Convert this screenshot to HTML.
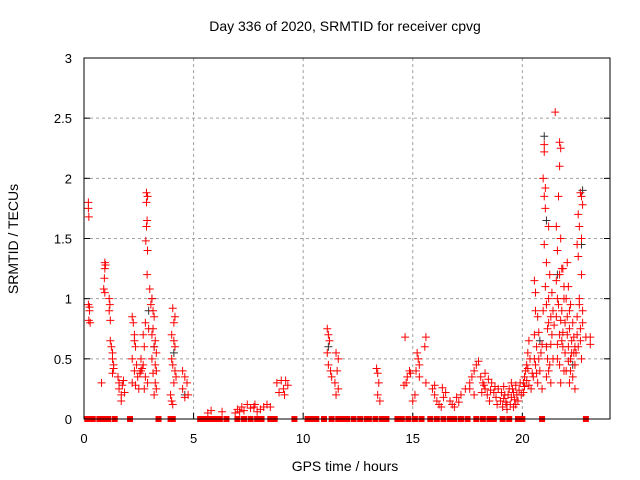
<!DOCTYPE html>
<html><head><meta charset="utf-8"><style>
body{margin:0;background:#fff;}
svg{display:block;font-family:"Liberation Sans",sans-serif;}
</style></head><body>
<svg id="chart" width="640" height="480">
<text x="345" y="31" font-size="14" text-anchor="middle">Day 336 of 2020, SRMTID for receiver cpvg</text>
<text x="345" y="471" font-size="14" text-anchor="middle">GPS time / hours</text>
<text transform="translate(18,239) rotate(-90)" font-size="14" text-anchor="middle">SRMTID / TECUs</text>
<g id="grid"></g><g id="ticks"></g><g id="marks"></g>
<rect x="84" y="58" width="526" height="361" fill="none" stroke="#000" stroke-width="1"/>
</svg>
<script>
const xTicks=[0,5,10,15,20];
const yTicks=[0,0.5,1,1.5,2,2.5,3];
const yTickLabels=["0","0.5","1","1.5","2","2.5","3"];
const redPoints=[[0.2,1.8],[0.2,1.75],[0.22,1.68],[0.2,0.95],[0.25,0.93],[0.25,0.9],[0.22,0.82],[0.28,0.8],[0.8,0.3],
[0.95,1.3],[0.98,1.28],[0.95,1.25],[0.93,1.17],[0.9,1.08],[0.95,1.05],[1.15,1.0],[1.18,0.95],[1.15,0.9],[1.2,0.82],[1.2,0.65],[1.25,0.6],[1.3,0.55],[1.3,0.5],[1.35,0.45],[1.35,0.42],[1.3,0.38],
[1.55,0.35],[1.6,0.3],[1.6,0.25],[1.7,0.2],[1.7,0.15],[1.75,0.28],[1.8,0.32],[1.85,0.22],
[2.2,0.85],[2.25,0.8],[2.3,0.7],[2.3,0.65],[2.35,0.6],[2.2,0.5],[2.4,0.45],[2.3,0.4],[2.45,0.35],[2.2,0.3],[2.5,0.25],[2.35,0.28],
[2.85,1.88],[2.9,1.85],[2.85,1.8],[2.88,1.65],[2.85,1.6],[2.82,1.48],[2.9,1.4],[2.88,1.2],[3.0,1.08],[3.05,0.95],[2.8,0.8],[2.95,0.75],[2.7,0.7],[2.75,0.6],[2.6,0.5],[2.7,0.45],[2.6,0.4],[2.8,0.35],[2.9,0.3],[2.75,0.25],[2.65,0.42],[2.55,0.38],
[3.1,1.0],[3.15,0.9],[3.2,0.85],[3.15,0.75],[3.1,0.7],[3.25,0.65],[3.2,0.6],[3.3,0.55],[3.1,0.5],[3.25,0.45],[3.3,0.4],[3.15,0.38],[3.25,0.3],[3.3,0.25],[3.2,0.2],
[4.05,0.92],[4.15,0.85],[4.1,0.8],[4.0,0.7],[4.1,0.65],[4.15,0.6],[4.0,0.5],[4.05,0.45],[4.15,0.4],[4.2,0.35],[4.1,0.3],[3.95,0.2],[4.0,0.15],[4.05,0.12],
[4.5,0.4],[4.6,0.35],[4.7,0.3],[4.5,0.25],[4.75,0.2],[4.6,0.18],
[5.65,0.05],[5.8,0.07],[6.3,0.06],
[6.9,0.05],[7.0,0.08],[7.2,0.1],[7.3,0.07],[7.45,0.12],[7.6,0.09],[7.75,0.1],[7.9,0.06],[8.05,0.08],[8.2,0.1],[8.35,0.12],[8.5,0.1],[7.1,0.06],[7.8,0.12],
[8.8,0.3],[8.9,0.22],[9.0,0.32],[9.1,0.25],[9.2,0.32],[9.15,0.2],[9.3,0.28],
[11.1,0.75],[11.15,0.7],[11.2,0.65],[11.1,0.55],[11.15,0.45],[11.25,0.4],[11.3,0.35],
[11.5,0.55],[11.6,0.5],[11.55,0.4],[11.45,0.3],[11.6,0.25],[11.5,0.2],
[13.35,0.42],[13.4,0.38],[13.45,0.3],[13.4,0.2],[13.5,0.15],
[14.65,0.68],[14.7,0.3],[14.75,0.35],[14.85,0.4],[14.9,0.38],[14.6,0.28],
[15.2,0.55],[15.25,0.5],[15.3,0.45],[15.15,0.4],[15.3,0.35],[15.1,0.2],[15.0,0.15],[15.6,0.68],[15.55,0.6],[15.6,0.3],
[15.9,0.25],[16.0,0.2],[16.1,0.15],[16.2,0.12],[16.3,0.1],[16.4,0.18],[16.5,0.22],[16.35,0.26],[16.0,0.28],
[16.7,0.15],[16.8,0.12],[16.9,0.1],[17.0,0.18],[17.2,0.2],[17.4,0.25],[17.1,0.14],
[17.6,0.3],[17.7,0.35],[17.8,0.4],[17.9,0.45],[18.0,0.48],[17.6,0.25],[17.8,0.2],
[18.1,0.35],[18.2,0.3],[18.3,0.25],[18.4,0.2],[18.5,0.15],[18.6,0.3],[18.7,0.22],[18.8,0.18],[18.3,0.38],[18.9,0.25],
[18.15,0.22],[18.25,0.28],[18.45,0.33],[18.55,0.24],[18.75,0.27],[18.85,0.12],
[19.0,0.15],[19.1,0.1],[19.2,0.2],[19.3,0.12],[19.4,0.25],[19.5,0.18],[19.6,0.22],[19.7,0.28],[19.8,0.15],[19.9,0.3],[19.3,0.08],[19.6,0.1],[19.95,0.2],
[19.05,0.22],[19.15,0.17],[19.25,0.14],[19.35,0.2],[19.45,0.12],[19.55,0.25],[19.65,0.16],[19.75,0.2],[19.85,0.24],[19.15,0.27],[19.5,0.3],[19.7,0.12],
[20.05,0.3],[20.1,0.35],[20.2,0.45],[20.25,0.55],[20.3,0.65],[20.35,0.5],[20.15,0.4],[20.4,0.25],
[20.05,0.22],[20.1,0.27],[20.2,0.32],[20.3,0.28],[20.45,0.38],[20.25,0.42],
[20.55,1.15],[20.6,1.05],[20.6,0.9],[20.7,0.85],[20.55,0.7],[20.65,0.6],[20.75,0.5],[20.6,0.45],[20.8,0.4],[20.7,0.3],[20.9,0.25],
[20.5,0.35],[20.65,0.38],[20.85,0.55],[20.9,0.62],[20.75,0.72],[20.95,0.9],[20.55,0.5],
[21.0,2.28],[21.0,2.22],[20.95,2.0],[21.05,1.92],[21.0,1.85],[21.05,1.75],[21.2,1.6],[21.0,1.45],[21.1,1.3],[21.25,1.2],[21.2,1.0],[21.1,0.95],[21.3,0.85],[21.2,0.8],[21.35,0.7],[21.1,0.6],[21.4,0.5],[21.2,0.4],[21.3,0.3],[21.15,0.75],
[21.05,1.1],[21.15,0.5],[21.3,0.62],[21.4,0.9],[21.25,0.45],[21.45,0.78],[21.35,1.05],[21.1,0.35],
[21.5,2.55],[21.7,2.3],[21.75,2.25],[21.7,2.1],[21.65,1.85],[21.55,1.6],[21.75,1.5],[21.6,1.4],[21.85,1.25],[21.7,1.2],[21.9,1.1],[21.6,1.0],[21.8,0.9],[21.95,0.8],[21.7,0.7],[21.85,0.6],[21.6,0.5],[21.9,0.4],[21.75,0.3],[21.55,0.85],[21.8,0.65],
[21.65,0.95],[21.75,0.82],[21.85,0.72],[21.95,0.55],[21.6,0.62],[21.7,0.45],[21.9,1.0],[21.8,1.25],[21.55,1.15],
[22.05,1.3],[22.1,1.1],[22.0,1.0],[22.2,0.95],[22.15,0.9],[22.3,0.8],[22.05,0.7],[22.25,0.65],[22.1,0.6],[22.35,0.55],[22.2,0.5],[22.0,0.4],[22.3,0.35],[22.15,0.3],[22.4,0.25],
[22.05,0.85],[22.15,0.75],[22.25,0.55],[22.35,0.68],[22.1,0.48],[22.4,0.6],[22.2,0.4],
[22.65,1.88],[22.7,1.85],[22.75,1.78],[22.55,1.7],[22.6,1.6],[22.7,1.5],[22.5,1.45],[22.55,1.35],[22.7,1.2],[22.6,1.0],[22.75,0.9],[22.5,0.85],[22.65,0.75],[22.55,0.6],[22.7,0.5],[22.9,0.68],[22.4,0.45],
[22.6,0.95],[22.5,0.7],[22.65,0.65],[22.75,0.8],[22.45,0.55],
[23.1,0.68],[23.1,0.62]];
const blackPoints=[[2.95,0.9],[3.1,1.0],[3.2,0.6],[4.1,0.55],[11.15,0.6],[21.0,2.35],[21.1,1.65],[21.6,1.2],[22.75,1.9],[22.7,1.45],[20.8,0.65],[22.3,0.45],[4.6,0.2]];
const zeroHours=[0.15,0.4,0.7,0.85,1.0,1.1,1.4,2.1,3.4,3.95,4.05,5.3,5.5,5.75,6.0,6.2,6.5,7.0,7.3,7.6,7.9,8.1,8.5,8.7,9.6,10.2,10.4,10.6,10.95,11.3,11.6,11.85,12.0,12.3,12.6,12.9,13.0,13.3,13.6,13.8,14.3,14.5,14.8,15.1,15.4,15.8,16.1,16.4,16.7,16.9,17.2,17.5,17.9,18.2,18.5,18.7,19.1,19.4,19.8,20.0,20.9,22.9];

const X0=84,X1=610,Y0=419,Y1=58,XMAX=24,YMAX=3;
const sx=v=>X0+v/XMAX*(X1-X0);
const sy=v=>Y0-v/YMAX*(Y0-Y1);
const NS="http://www.w3.org/2000/svg";
function mk(tag,attrs,parent){const e=document.createElementNS(NS,tag);for(const k in attrs)e.setAttribute(k,attrs[k]);parent.appendChild(e);return e;}
const grid=document.getElementById('grid'),ticks=document.getElementById('ticks'),marks=document.getElementById('marks');
xTicks.forEach(t=>{
  const x=sx(t);
  if(t>0){const g=mk('line',{x1:x,x2:x,y1:Y1,y2:Y0,stroke:'#a0a0a0','stroke-dasharray':'3,3'},grid);
  
  }
  const l=mk('text',{x:x,y:Y0+24,'font-size':13,'text-anchor':'middle'},ticks);l.textContent=t;
  
  
  mk('line',{x1:x,x2:x,y1:Y0,y2:Y0-6,stroke:'#000'},ticks);
});
yTicks.forEach((t,i)=>{
  const y=sy(t);
  if(t>0&&t<YMAX){const g=mk('line',{x1:X0,x2:X1,y1:y,y2:y,stroke:'#a0a0a0','stroke-dasharray':'3,3'},grid);
  
  }
  const l=mk('text',{x:X0-12,y:y+5,'font-size':13,'text-anchor':'end'},ticks);l.textContent=yTickLabels[i];
  
  
  mk('line',{x1:X0,x2:X0+6,y1:y,y2:y,stroke:'#000'},ticks);
  mk('line',{x1:X1,x2:X1-6,y1:y,y2:y,stroke:'#000'},ticks);
});
function plus(x,y,c,name){
  const p=mk('path',{d:`M${x-4},${y}H${x+4}M${x},${y-4}V${y+4}`,stroke:c,'stroke-width':1,fill:'none'},marks);
  
  
}
blackPoints.forEach(d=>plus(sx(d[0]),sy(d[1]),'#333','black-point'));
redPoints.forEach(d=>plus(sx(d[0]),sy(d[1]),'#ff0000','red-point'));
zeroHours.forEach(h=>{
  const r=mk('rect',{x:sx(h)-3,y:Y0-3,width:6,height:6,fill:'#ff0000'},marks);
  
  
});
</script>
</body></html>
